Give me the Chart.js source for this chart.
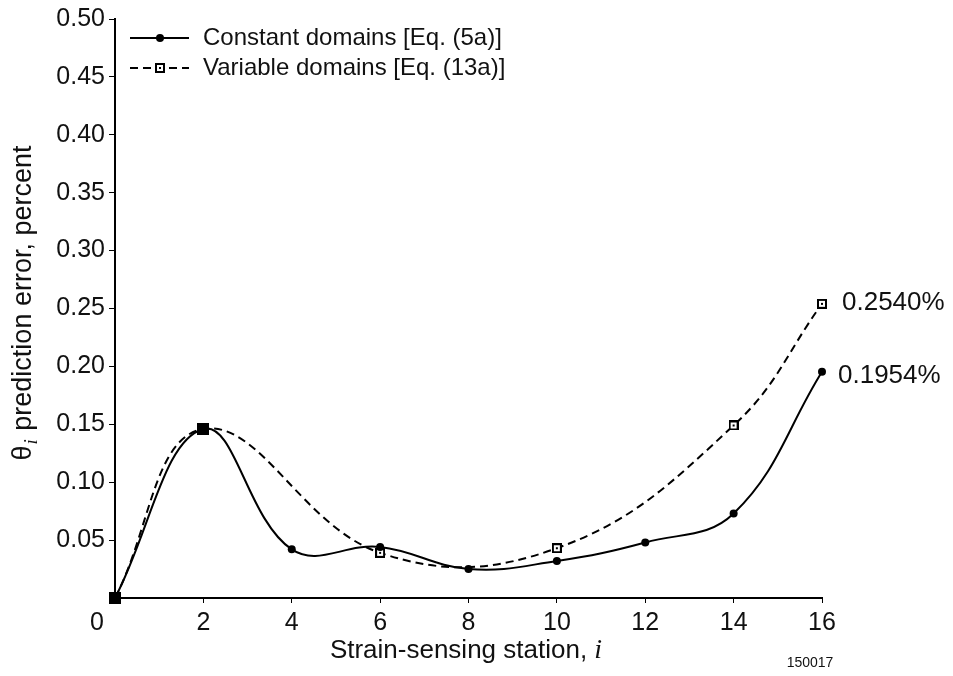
<!DOCTYPE html>
<html>
<head>
<meta charset="utf-8">
<script src="https://cdn.jsdelivr.net/npm/chart.js@4.4.1/dist/chart.umd.min.js"></script>
<style>
  html, body { margin: 0; padding: 0; background: #fff; }
  #wrap { width: 953px; height: 676px; position: relative; }
</style>
</head>
<body>
<div id="wrap"><canvas id="errChart" width="953" height="676"></canvas></div>
<script>
const FONT = "'Liberation Sans', Arial, Helvetica, sans-serif";
const SERIF = "'Liberation Serif', 'Times New Roman', serif";

// stations and prediction errors (percent)
const stations = [0, 2, 4, 6, 8, 10, 12, 14, 16];
const constantErr = [0, 0.146, 0.042, 0.044, 0.025, 0.032, 0.048, 0.073, 0.1954];
const variableStations = [0, 2, 6, 10, 14, 16];
const variableErr = [0, 0.146, 0.039, 0.043, 0.149, 0.2540];

const legendLabels = ["Constant domains [Eq. (5a)]", "Variable domains [Eq. (13a)]"];
const endLabels = ["0.1954%", "0.2540%"];
const figureId = "150017";

function toPoints(xs, ys) {
  return xs.map((x, i) => ({ x: x, y: ys[i] }));
}

// open square marker with a tiny dot inside, and a filled one
function squareMarker(filled, size) {
  const c = document.createElement('canvas');
  c.width = size; c.height = size;
  const g = c.getContext('2d');
  g.fillStyle = filled ? '#000' : '#fff';
  g.fillRect(0, 0, size, size);
  g.strokeStyle = '#000';
  g.lineWidth = 2;
  g.strokeRect(1, 1, size - 2, size - 2);
  g.fillStyle = '#000';
  const m = size / 2 - 1;
  g.fillRect(m, m, 2, 2);
  return c;
}
const openSq = squareMarker(false, 10);
const fullSq = squareMarker(true, 12);

function drawLegendRow(ctx, y, dashed, marker, text) {
  ctx.save();
  ctx.strokeStyle = '#000';
  ctx.lineWidth = 2;
  if (dashed) ctx.setLineDash([8, 5]);
  ctx.beginPath();
  ctx.moveTo(130, y);
  ctx.lineTo(189, y);
  ctx.stroke();
  ctx.setLineDash([]);
  if (marker === 'circle') {
    ctx.fillStyle = '#000';
    ctx.beginPath();
    ctx.arc(160, y, 4, 0, Math.PI * 2);
    ctx.fill();
  } else {
    ctx.fillStyle = '#fff';
    ctx.fillRect(153, y - 6, 14, 12);
    ctx.drawImage(openSq, 155, y - 5);
  }
  ctx.fillStyle = '#111';
  ctx.font = '24px ' + FONT;
  ctx.textBaseline = 'middle';
  ctx.fillText(text, 203, y);
  ctx.restore();
}

const extras = {
  id: 'extras',
  afterDraw(chart) {
    const ctx = chart.ctx;
    const xs = chart.scales.x, ys = chart.scales.y;

    drawLegendRow(ctx, 38, false, 'circle', legendLabels[0]);
    drawLegendRow(ctx, 68, true, 'square', legendLabels[1]);

    ctx.save();
    ctx.fillStyle = '#111';
    ctx.font = '26px ' + FONT;
    ctx.textBaseline = 'middle';
    const xEnd = xs.getPixelForValue(16);
    ctx.fillText(endLabels[1], xEnd + 20, ys.getPixelForValue(variableErr[5]) - 1);
    ctx.fillText(endLabels[0], xEnd + 16, ys.getPixelForValue(constantErr[8]) + 4);

    // zero at the origin
    ctx.textAlign = 'center';
    ctx.font = '25px ' + FONT;
    ctx.fillText('0', 97, 623);

    // x title with italic i
    const xt = 'Strain-sensing station, ';
    ctx.font = '26px ' + FONT;
    const w1 = ctx.measureText(xt).width;
    ctx.font = 'italic 28px ' + SERIF;
    const w2 = ctx.measureText('i').width;
    const sx = 466 - (w1 + w2) / 2;
    ctx.textAlign = 'left';
    ctx.font = '26px ' + FONT;
    ctx.fillText(xt, sx, 651);
    ctx.font = 'italic 28px ' + SERIF;
    ctx.fillText('i', sx + w1, 651);

    // y title, rotated
    ctx.translate(24, 303);
    ctx.rotate(-Math.PI / 2);
    const p1 = '\u03B8', p3 = ' prediction error, percent';
    ctx.font = '27px ' + FONT;
    const a = ctx.measureText(p1).width;
    const c = ctx.measureText(p3).width;
    ctx.font = 'italic 19px ' + SERIF;
    const b = ctx.measureText('i').width + 2;
    const ty = -(a + b + c) / 2;
    ctx.font = '27px ' + FONT;
    ctx.fillText(p1, ty, 0);
    ctx.font = 'italic 19px ' + SERIF;
    ctx.fillText('i', ty + a + 1, 8);
    ctx.font = '27px ' + FONT;
    ctx.fillText(p3, ty + a + b, 0);
    ctx.restore();

    ctx.save();
    ctx.fillStyle = '#111';
    ctx.font = '14px ' + FONT;
    ctx.textAlign = 'center';
    ctx.textBaseline = 'middle';
    ctx.fillText(figureId, 810, 663);
    ctx.restore();
  }
};

new Chart(document.getElementById('errChart'), {
  type: 'line',
  data: {
    datasets: [
      {
        label: legendLabels[0],
        data: toPoints(stations, constantErr),
        borderColor: '#000',
        borderWidth: 2,
        tension: 0.4,
        pointStyle: 'circle',
        pointRadius: 4,
        pointBackgroundColor: '#000',
        pointBorderWidth: 0,
        clip: false
      },
      {
        label: legendLabels[1],
        data: toPoints(variableStations, variableErr),
        borderColor: '#000',
        borderWidth: 2,
        borderDash: [8, 5],
        tension: 0.4,
        pointStyle: [fullSq, fullSq, openSq, openSq, openSq, openSq],
        pointRadius: 5,
        clip: false
      }
    ]
  },
  options: {
    responsive: false,
    animation: false,
    events: [],
    layout: { padding: { left: 0, right: 131, top: 19, bottom: 0 } },
    plugins: { legend: { display: false }, tooltip: { enabled: false } },
    scales: {
      x: {
        type: 'linear',
        min: 0, max: 16,
        afterFit(s) { s.height = 78; },
        border: { display: true, color: '#000', width: 2 },
        grid: { display: true, drawOnChartArea: false, drawTicks: true, tickLength: 5, color: '#000', lineWidth: 1 },
        ticks: {
          stepSize: 2,
          color: '#111',
          padding: 5,
          maxRotation: 0,
          font: { family: FONT, size: 25 },
          callback: v => v === 0 ? '' : String(v)
        }
      },
      y: {
        min: 0, max: 0.5,
        afterFit(s) { s.width = 115; },
        border: { display: true, color: '#000', width: 2 },
        grid: { display: true, drawOnChartArea: false, drawTicks: true, tickLength: 6, color: '#000', lineWidth: 1 },
        ticks: {
          stepSize: 0.05,
          color: '#111',
          padding: 4,
          font: { family: FONT, size: 25 },
          callback: v => v === 0 ? '' : v.toFixed(2)
        }
      }
    }
  },
  plugins: [extras]
});
</script>
</body>
</html>
